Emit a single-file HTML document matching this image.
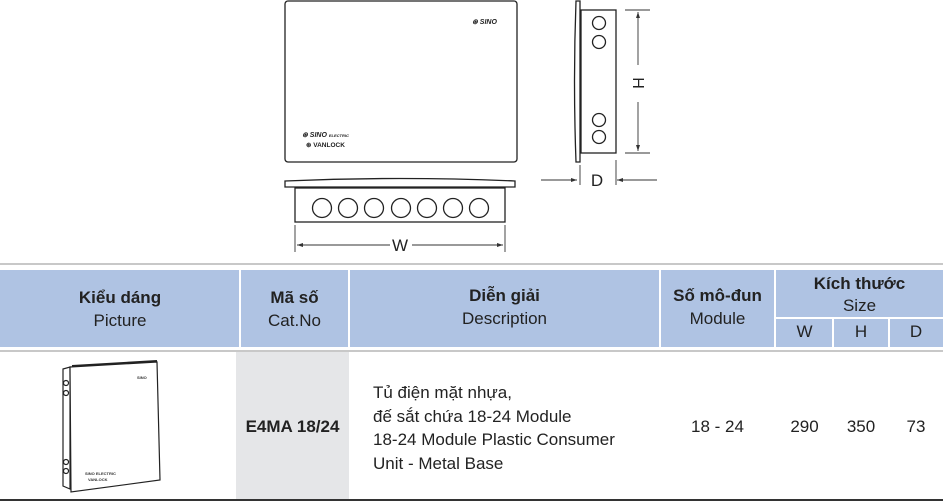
<!DOCTYPE html>
<html><head><meta charset="utf-8"><style>
body{margin:0;width:943px;height:502px;background:#fff;position:relative;overflow:hidden;font-family:"Liberation Sans Narrow","Liberation Sans",sans-serif;color:#222}
.a{position:absolute}
.t{position:absolute;text-align:center;line-height:22px;font-size:17px}
.b{font-weight:bold}
</style></head><body>
<svg class="a" style="left:0;top:0" width="943" height="502">
<g fill="none" stroke="#222" stroke-width="1.3">
<rect x="285" y="1" width="232" height="161" rx="3"/>
<path d="M285 181 Q400 176 515 181 L515 187 L285 187 Z"/>
<rect x="295" y="188" width="210" height="34"/>
<circle cx="322" cy="208" r="9.5"/><circle cx="348" cy="208" r="9.5"/><circle cx="374" cy="208" r="9.5"/><circle cx="401" cy="208" r="9.5"/><circle cx="427" cy="208" r="9.5"/><circle cx="453" cy="208" r="9.5"/><circle cx="479" cy="208" r="9.5"/>
<path d="M576 1 L580 1 L580 162 L576 162 Q573 81 576 1Z"/>
<rect x="581" y="10" width="35" height="143"/>
<circle cx="599" cy="23" r="6.5"/><circle cx="599" cy="42" r="6.5"/><circle cx="599" cy="120" r="6.5"/><circle cx="599" cy="137" r="6.5"/>
</g>
<g stroke="#333" stroke-width="0.9" fill="none">
<path d="M295 225 V252 M505 225 V252 M297 245 H390 M412 245 H503"/>
<path d="M625 10 H650 M625 153 H650 M638 12 V65 M638 102 V151"/>
<path d="M541 180 H577 M617 180 H657 M580 165 V185 M616 160 V185"/>
</g>
<g fill="#333"><path d="M297 245 l6 -2 v4z M503 245 l-6 -2 v4z M638 12 l-2 6 h4z M638 151 l-2 -6 h4z M577 180 l-6 -2 v4z M617 180 l6 -2 v4z"/></g>
<text x="400" y="251" font-family="Liberation Sans Narrow,Liberation Sans,sans-serif" font-size="17" text-anchor="middle" fill="#222">W</text>
<text x="597" y="186" font-family="Liberation Sans Narrow,Liberation Sans,sans-serif" font-size="17" text-anchor="middle" fill="#222">D</text>
<text x="0" y="0" transform="translate(633 83) rotate(90)" font-family="Liberation Sans Narrow,Liberation Sans,sans-serif" font-size="16" text-anchor="middle" fill="#222">H</text>
<text x="472" y="24" font-family="Liberation Sans" font-size="7" font-weight="bold" font-style="italic" fill="#222">⊛ SINO</text>
<text x="302" y="137" font-family="Liberation Sans" font-size="7" font-weight="bold" font-style="italic" fill="#222">⊛ SINO <tspan font-size="4">ELECTRIC</tspan></text>
<text x="306" y="147" font-family="Liberation Sans" font-size="6.5" font-weight="bold" fill="#222">⊛ VANLOCK</text>
<rect x="0" y="263" width="943" height="2" fill="#c8c8c8"/>
<rect x="0" y="270" width="943" height="77" fill="#afc3e3"/>
<g stroke="#fff" stroke-width="2"><path d="M240 270 V347 M349 270 V347 M660 270 V347 M775 270 V347 M776 318 H943 M833 318 V347 M889 318 V347"/></g>
<rect x="0" y="350" width="943" height="2" fill="#c8c8c8"/>
<rect x="236" y="352" width="113" height="148" fill="#e5e6e8"/>
<rect x="0" y="499" width="943" height="2" fill="#333"/>
<g fill="none" stroke="#222" stroke-width="1.2">
<path d="M63 369 L70 367 L70 489 L63 486Z"/>
<path d="M70 367 L157 362 L160 480 L71 492 Z" fill="#fff"/>
<path d="M72 366 L157 361" stroke-width="2"/>
<circle cx="66" cy="383" r="2.5"/><circle cx="66" cy="393" r="2.5"/><circle cx="66" cy="462" r="2.5"/><circle cx="66" cy="471" r="2.5"/>
</g>
<text x="137" y="379" font-family="Liberation Sans" font-size="4" font-weight="bold" fill="#333">SINO</text>
<text x="85" y="475" font-family="Liberation Sans" font-size="4" font-weight="bold" fill="#333">SINO ELECTRIC</text>
<text x="88" y="481" font-family="Liberation Sans" font-size="4" font-weight="bold" fill="#333">VANLOCK</text>
</svg>
<div class="t b" style="left:0;width:240px;top:287px">Kiểu dáng</div>
<div class="t" style="left:0;width:240px;top:310px">Picture</div>
<div class="t b" style="left:240px;width:109px;top:287px">Mã số</div>
<div class="t" style="left:240px;width:109px;top:310px">Cat.No</div>
<div class="t b" style="left:349px;width:311px;top:285px">Diễn giải</div>
<div class="t" style="left:349px;width:311px;top:308px">Description</div>
<div class="t b" style="left:660px;width:115px;top:285px">Số mô-đun</div>
<div class="t" style="left:660px;width:115px;top:308px">Module</div>
<div class="t b" style="left:776px;width:167px;top:273px">Kích thước</div>
<div class="t" style="left:776px;width:167px;top:295px">Size</div>
<div class="t" style="left:776px;width:57px;top:321px">W</div>
<div class="t" style="left:833px;width:56px;top:321px">H</div>
<div class="t" style="left:889px;width:54px;top:321px">D</div>
<div class="t b" style="left:236px;width:113px;top:416px">E4MA 18/24</div>
<div class="a" style="left:373px;top:381px;font-size:17px;line-height:23.5px">Tủ điện mặt nhựa,<br>đế sắt chứa 18-24 Module<br>18-24 Module Plastic Consumer<br>Unit - Metal Base</div>
<div class="t" style="left:660px;width:115px;top:416px">18 - 24</div>
<div class="t" style="left:776px;width:57px;top:416px">290</div>
<div class="t" style="left:833px;width:56px;top:416px">350</div>
<div class="t" style="left:889px;width:54px;top:416px">73</div>
</body></html>
